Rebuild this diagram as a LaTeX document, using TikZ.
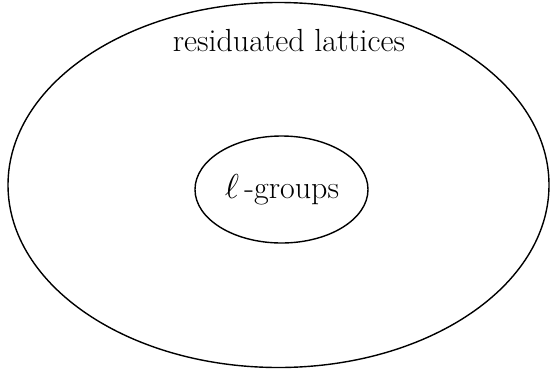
\documentclass[tikz,border=0pt]{standalone}
\usepackage{fontspec}
\usetikzlibrary{shapes.geometric}
\begin{document}
\begin{tikzpicture}[x=0.5pt,y=-0.5pt,
  lbl/.style={font=\fontsize{16}{19}\selectfont, inner sep=0pt},
  ring/.style={draw=black, line width=0.7pt, ellipse, inner sep=0pt}]
\useasboundingbox (0,0) rectangle (551,370);
\node[ring, minimum width=270.5pt, minimum height=182.5pt] (outer) at (278.5,185) {};
\node[ring, minimum width=86.5pt, minimum height=53.5pt] (inner) at (281.5,189.5) {};
\node[lbl] (rl) at (289,41) {residuated lattices};
\node[lbl] (lg) at (282,190) {$\ell$\,-groups};
\end{tikzpicture}
\end{document}
